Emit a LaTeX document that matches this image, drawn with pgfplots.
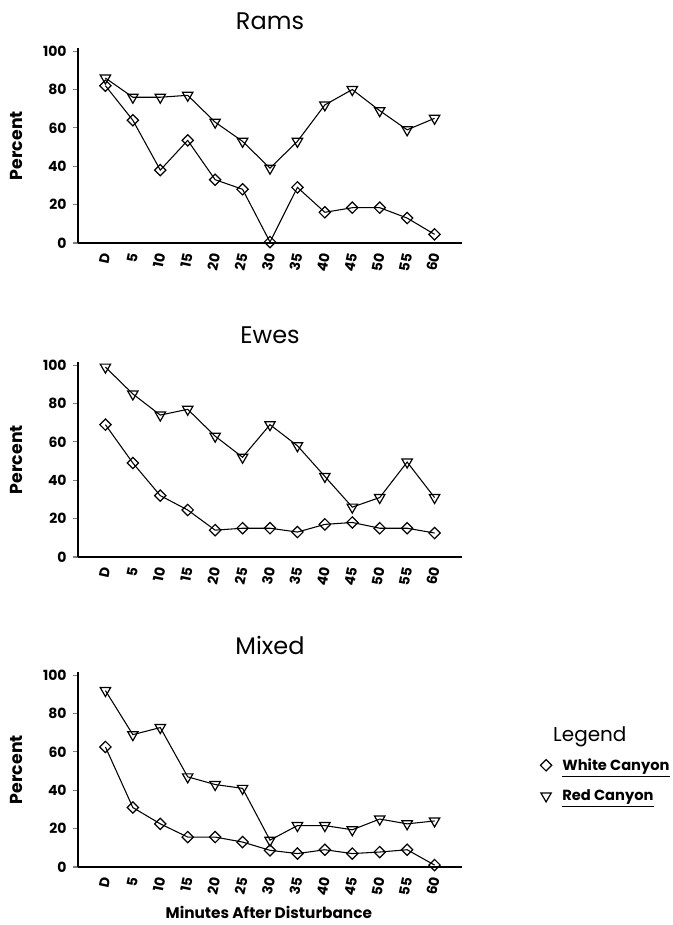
\documentclass[border=0pt]{standalone}
\usepackage{fontspec}
\setmainfont{Poppins}
\usepackage{pgfplots}
\pgfplotsset{compat=1.18}
\begin{document}
\begin{tikzpicture}
\pgfplotsset{
  panel/.style={
    scale only axis, width=288pt, height=146pt,
    xmin=-1, xmax=13, ymin=0, ymax=101.5,
    axis x line=bottom, axis y line=left,
    axis line style={-, line width=0.9pt},
    xtick={0,...,12}, xticklabels={D,5,10,15,20,25,30,35,40,45,50,55,60},
    ytick={0,20,40,60,80,100},
    xtick style={draw=none},
    ytick style={line width=0.8pt},
    tick align=outside, major tick length=4pt,
    /pgf/number format/assume math mode=true,
    yticklabel style={font=\bfseries\fontsize{10.5}{12}\selectfont, xshift=-1pt},
    xticklabel style={font=\bfseries\fontsize{10.5}{12}\selectfont, rotate=78, anchor=east, yshift=-1pt},
    ylabel={Percent},
    every axis y label/.style={at={(axis description cs:-0.16,0.5)}, rotate=90, anchor=center, font=\bfseries\fontsize{13}{15}\selectfont},
    title style={at={(axis description cs:0.5,1)}, anchor=center, yshift=14pt, font=\fontsize{18}{20}\selectfont},
    clip=false,
  },
  wc/.style={black, line width=0.8pt, mark=square, mark size=3pt, mark options={rotate=45, fill=white, solid, line width=0.9pt}},
  rc/.style={black, line width=0.8pt, mark=triangle, mark size=4.5pt, mark options={rotate=180, fill=white, solid, line width=0.9pt}},
}
% Rams
\begin{axis}[panel, at={(58.5pt,511.5pt)}, anchor=south west, title={Rams}]
\addplot[rc] coordinates {(0,86) (1,76) (2,76) (3,77) (4,63) (5,53) (6,39) (7,53) (8,72) (9,80) (10,69) (11,59) (12,65)};
\addplot[wc] coordinates {(0,82) (1,64) (2,38) (3,53.5) (4,33) (5,28) (6,0.5) (7,29) (8,16) (9,18.4) (10,18.4) (11,13) (12,4.5)};
\end{axis}
% Ewes
\begin{axis}[panel, at={(58.5pt,276pt)}, anchor=south west, title={Ewes}]
\addplot[rc] coordinates {(0,99) (1,85) (2,74) (3,77) (4,63) (5,52) (6,69) (7,58) (8,42) (9,26) (10,31) (11,49.5) (12,31)};
\addplot[wc] coordinates {(0,69) (1,49) (2,32) (3,24.5) (4,14) (5,15) (6,15) (7,13) (8,17) (9,18) (10,15) (11,15) (12,12.5)};
\end{axis}
% Mixed
\begin{axis}[panel, at={(58.5pt,43.5pt)}, anchor=south west, title={Mixed},
  xlabel={Minutes After Disturbance},
  every axis x label/.style={at={(axis description cs:0.497,-0.235)}, anchor=center, font=\bfseries\fontsize{11.5}{13}\selectfont},
  legend style={at={(rel axis cs:1.2,0.445)}, anchor=west, draw=none, fill=none, font=\bfseries\fontsize{11}{13}\selectfont, row sep=9pt, inner sep=1pt},
  legend cell align=left]
\addplot[rc, forget plot] coordinates {(0,92) (1,69) (2,72.7) (3,47) (4,43) (5,41) (6,14) (7,21.6) (8,21.6) (9,19.4) (10,25) (11,22.5) (12,24)};
\addplot[wc, forget plot] coordinates {(0,62.6) (1,31) (2,22.5) (3,15.6) (4,15.6) (5,13) (6,8.7) (7,7) (8,9) (9,7) (10,7.8) (11,9) (12,1)};
\addlegendimage{wc, only marks}
\addlegendentry{\hspace{6pt}\underline{White Canyon}}
\addlegendimage{rc, only marks}
\addlegendentry{\hspace{6pt}\underline{Red Canyon}}
\node[font=\fontsize{15}{18}\selectfont] at (rel axis cs:1.333,0.667) {Legend};
\end{axis}
\pgfresetboundingbox
\path (0,0) rectangle (504pt,693.75pt);
\end{tikzpicture}
\end{document}
